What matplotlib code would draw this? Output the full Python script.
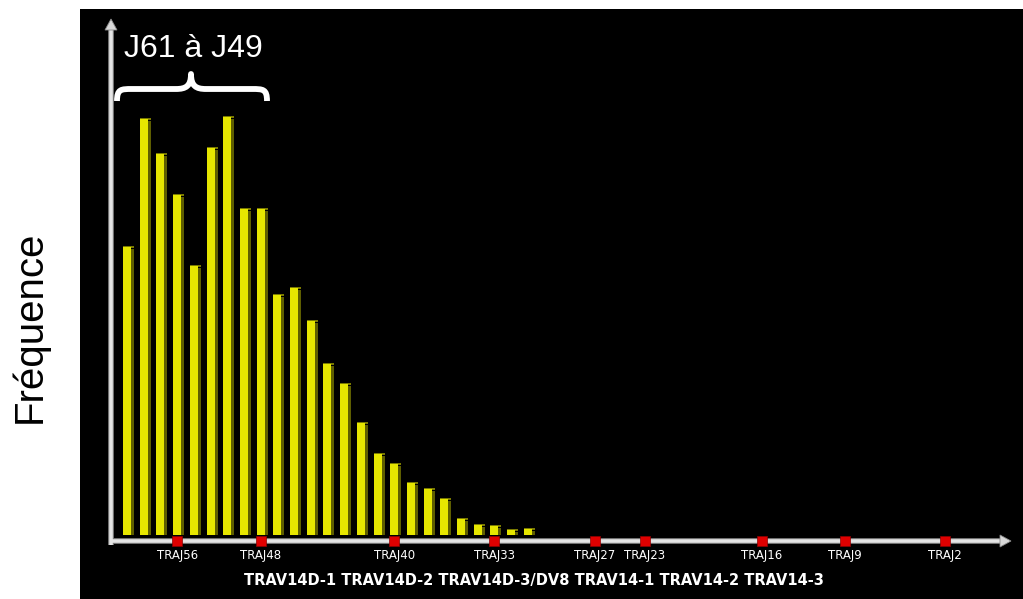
import matplotlib
matplotlib.use("Agg")
import matplotlib.pyplot as plt
from matplotlib.path import Path
from matplotlib.patches import PathPatch, Polygon
import numpy as np

# Frequency of each TRAJ segment usage (arbitrary units), ordered along the locus
frequencies = [288, 416, 381, 340, 269, 387, 418, 326, 326, 240, 247, 214, 171,
               151, 112, 81, 71, 52, 46, 36, 16, 10, 9, 5, 6]
traj_labels = ["TRAJ56", "TRAJ48", "TRAJ40", "TRAJ33", "TRAJ27", "TRAJ23",
               "TRAJ16", "TRAJ9", "TRAJ2"]
traj_positions = [3, 8, 16, 22, 28, 31, 38, 43, 49]
trav_caption = "TRAV14D-1 TRAV14D-2 TRAV14D-3/DV8 TRAV14-1 TRAV14-2 TRAV14-3"
bracket_label = "J61 à J49"
y_label = "Fréquence"

W, H = 1023, 599
fig = plt.figure(figsize=(W / 100, H / 100), dpi=100, facecolor="white")


def fx(x):
    return x / W


def fy(y):
    return 1 - y / H


# black plotting panel
x0, x1, y0, y1 = 80, 1023, 9, 599
ax = fig.add_axes([fx(x0), fy(y1), fx(x1) - fx(x0), fy(y0) - fy(y1)])
ax.set_facecolor("black")
for s in ax.spines.values():
    s.set_visible(False)
ax.set_xticks([])
ax.set_yticks([])

# one bar step = 16.7 px, first bar centred at x=127 px, baseline at y=535 px
step = 16.7
ax.set_xlim((x0 - 127) / step, (x1 - 127) / step)
ax.set_ylim(535 - y1, 535 - y0)

n = len(frequencies)
xs = np.arange(n)
face_w = 8 / step
side_w = 3 / step
vals = np.array(frequencies, dtype=float)

# side face (shadow) then front face of each bar
ax.bar(xs + face_w / 2 + side_w / 2, vals - 2, width=side_w, color="#5e5e00",
       linewidth=0, zorder=2)
ax.bar(xs, vals, width=face_w, color="#e6e600", linewidth=0, zorder=3)
# darker top rim
ax.bar(xs + side_w / 2, np.full(n, 2.0), bottom=vals - 1, width=face_w + side_w,
       color="#7a7a00", linewidth=0, zorder=2.5)
ax.bar(xs, np.full(n, 1.0), bottom=vals - 1, width=face_w, color="#e6e600",
       linewidth=0, zorder=3.5)

# axes drawn as light grey rails with arrowheads
axis_y = -6
yx = (111 - 127) / step
x_end = (1000 - 127) / step
ax.plot([yx, x_end], [axis_y, axis_y], color="#7a7a7a", lw=4.2,
        solid_capstyle="butt", zorder=4)
ax.plot([yx, x_end], [axis_y, axis_y], color="#e4e4e4", lw=2.6,
        solid_capstyle="butt", zorder=5)
ax.plot([yx, yx], [-10, 535 - 30], color="#7a7a7a", lw=4.2,
        solid_capstyle="butt", zorder=4)
ax.plot([yx, yx], [-10, 535 - 30], color="#e4e4e4", lw=2.6,
        solid_capstyle="butt", zorder=5)
ax.add_patch(Polygon([[x_end, axis_y + 6], [x_end, axis_y - 6],
                      [(1011 - 127) / step, axis_y]], closed=True,
                     facecolor="#d8d8d8", edgecolor="#8a8a8a", lw=0.6, zorder=6))
ax.add_patch(Polygon([[yx - 6 / step, 535 - 30], [yx + 6 / step, 535 - 30],
                      [yx, 535 - 19]], closed=True,
                     facecolor="#d8d8d8", edgecolor="#8a8a8a", lw=0.6, zorder=6))

# red segment markers on the axis
ax.scatter(traj_positions, [axis_y] * len(traj_positions), marker="s", s=42,
           color="#e00000", edgecolors="#900000", linewidths=0.5, zorder=7)

for pos, lab in zip(traj_positions, traj_labels):
    ax.text(pos, axis_y - 15, lab, color="white", fontsize=8.5,
            ha="center", va="center", family="DejaVu Sans", zorder=8)

ax.text((534 - 127) / step, 535 - 580, trav_caption, color="white",
        fontsize=10.5, fontweight="bold", ha="center", va="center",
        family="DejaVu Sans", zorder=8)

# bracket over the first group of bars
verts = [(117, 101),
         (117, 89), (121, 89), (132, 89),
         (176, 89),
         (186, 89), (191, 86), (191, 74),
         (191, 86), (196, 89), (206, 89),
         (252, 89),
         (263, 89), (267, 89), (267, 101)]
codes = [Path.MOVETO,
         Path.CURVE4, Path.CURVE4, Path.CURVE4,
         Path.LINETO,
         Path.CURVE4, Path.CURVE4, Path.CURVE4,
         Path.CURVE4, Path.CURVE4, Path.CURVE4,
         Path.LINETO,
         Path.CURVE4, Path.CURVE4, Path.CURVE4]
brace = Path([(fx(x), fy(y)) for x, y in verts], codes)
fig.patches.append(PathPatch(brace, transform=fig.transFigure, facecolor="none",
                             edgecolor="white", lw=4.2, capstyle="butt",
                             joinstyle="round", zorder=10))

fig.text(fx(124), fy(57), bracket_label, color="white", fontsize=23,
         family="Liberation Sans", ha="left", va="baseline", zorder=10)

fig.text(fx(30), fy(327), y_label, color="black", fontsize=29,
         family="Liberation Sans", rotation=90, ha="center", va="center")

fig.savefig("out.png", dpi=100, facecolor="white")
